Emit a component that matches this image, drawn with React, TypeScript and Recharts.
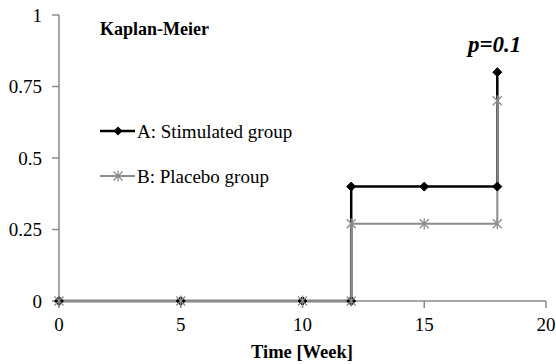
import { LineChart, Line, XAxis, YAxis } from "recharts";

const weeks = [0, 5, 10, 12, 12, 15, 18, 18];
const stimulated = [0, 0, 0, 0, 0.4, 0.4, 0.4, 0.8];
const placebo = [0, 0, 0, 0, 0.27, 0.27, 0.27, 0.7];
const xTicks = [0, 5, 10, 15, 20];
const yTicks = [0, 0.25, 0.5, 0.75, 1];

const dataA = weeks.map((w, i) => ({ week: w, value: stimulated[i] }));
const dataB = weeks.map((w, i) => ({ week: w, value: placebo[i] }));

const AXIS = "#8a8a8a";
const GREY = "#8c8c8c";
const FONT = "Times New Roman";

// drop the default body margin so the chart sits at 0,0
if (typeof document !== "undefined") document.body.style.margin = "0";

const diamondPath = (x: number, y: number, r: number) =>
  `M${x},${y - r}L${x + r},${y}L${x},${y + r}L${x - r},${y}Z`;

const starPath = (x: number, y: number, r: number) =>
  `M${x - r},${y - r}L${x + r},${y + r}M${x - r},${y + r}L${x + r},${y - r}M${x},${y - r - 1}L${x},${y + r + 1}`;

const DiamondDot = (props: any) => {
  const { cx, cy, index } = props;
  if (cx == null || cy == null) return <g key={`a-${index}`} />;
  return <path key={`a-${index}`} d={diamondPath(cx, cy, 4.5)} fill="#000" stroke="#000" strokeWidth={1} />;
};

const StarDot = (props: any) => {
  const { cx, cy, index } = props;
  if (cx == null || cy == null) return <g key={`b-${index}`} />;
  return <path key={`b-${index}`} d={starPath(cx, cy, 4.5)} fill="none" stroke={GREY} strokeWidth={1.3} />;
};

const TickText = (props: any) => {
  const { x, y, payload, textAnchor, verticalAnchor } = props;
  const dy = verticalAnchor === "start" ? "0.71em" : "0.355em";
  return (
    <text x={x} y={y} dy={dy} textAnchor={textAnchor} fill="#000" fontFamily={FONT} fontSize={19}>
      {String(payload.value)}
    </text>
  );
};

export default function App() {
  return (
    <div style={{ position: "relative", width: 556, height: 364, background: "#fff", fontFamily: FONT }}>
      <LineChart width={556} height={364} margin={{ top: 15, right: 10, bottom: 0, left: 0 }}>
        <XAxis
          type="number"
          dataKey="week"
          domain={[0, 20]}
          ticks={xTicks}
          allowDuplicatedCategory={false}
          height={63}
          tickSize={7}
          tickMargin={10}
          stroke={AXIS}
          axisLine={{ stroke: AXIS, strokeWidth: 1.5 }}
          tickLine={{ stroke: AXIS, strokeWidth: 1.5 }}
          tick={<TickText />}
        />
        <YAxis
          type="number"
          domain={[0, 1]}
          ticks={yTicks}
          width={59}
          tickSize={7}
          tickMargin={10}
          stroke={AXIS}
          axisLine={{ stroke: AXIS, strokeWidth: 1.5 }}
          tickLine={{ stroke: AXIS, strokeWidth: 1.5 }}
          tick={<TickText />}
        />
        <Line
          data={dataA}
          dataKey="value"
          type="linear"
          stroke="#000"
          strokeWidth={2.5}
          dot={DiamondDot}
          activeDot={false}
          isAnimationActive={false}
        />
        <Line
          data={dataB}
          dataKey="value"
          type="linear"
          stroke={GREY}
          strokeWidth={2}
          dot={StarDot}
          activeDot={false}
          isAnimationActive={false}
        />
      </LineChart>
      <svg
        width={556}
        height={364}
        style={{ position: "absolute", left: 0, top: 0, pointerEvents: "none" }}
      >
        <text x={100} y={35} fill="#000" fontFamily={FONT} fontSize={18} fontWeight="bold">
          Kaplan-Meier
        </text>
        <text x={468} y={52} fill="#000" fontFamily={FONT} fontSize={23} fontWeight="bold" fontStyle="italic">
          p=0.1
        </text>
        <line x1={100} y1={131} x2={135} y2={131} stroke="#000" strokeWidth={2.5} />
        <path d={diamondPath(118, 131, 4.5)} fill="#000" />
        <text x={137} y={138} fill="#000" fontFamily={FONT} fontSize={19}>
          A: Stimulated group
        </text>
        <line x1={100} y1={176} x2={135} y2={176} stroke={GREY} strokeWidth={2} />
        <path d={starPath(118, 176, 4.5)} fill="none" stroke={GREY} strokeWidth={1.3} />
        <text x={137} y={183} fill="#000" fontFamily={FONT} fontSize={19}>
          B: Placebo group
        </text>
        <text x={302} y={358} textAnchor="middle" fill="#000" fontFamily={FONT} fontSize={18.5} fontWeight="bold">
          Time [Week]
        </text>
      </svg>
    </div>
  );
}
